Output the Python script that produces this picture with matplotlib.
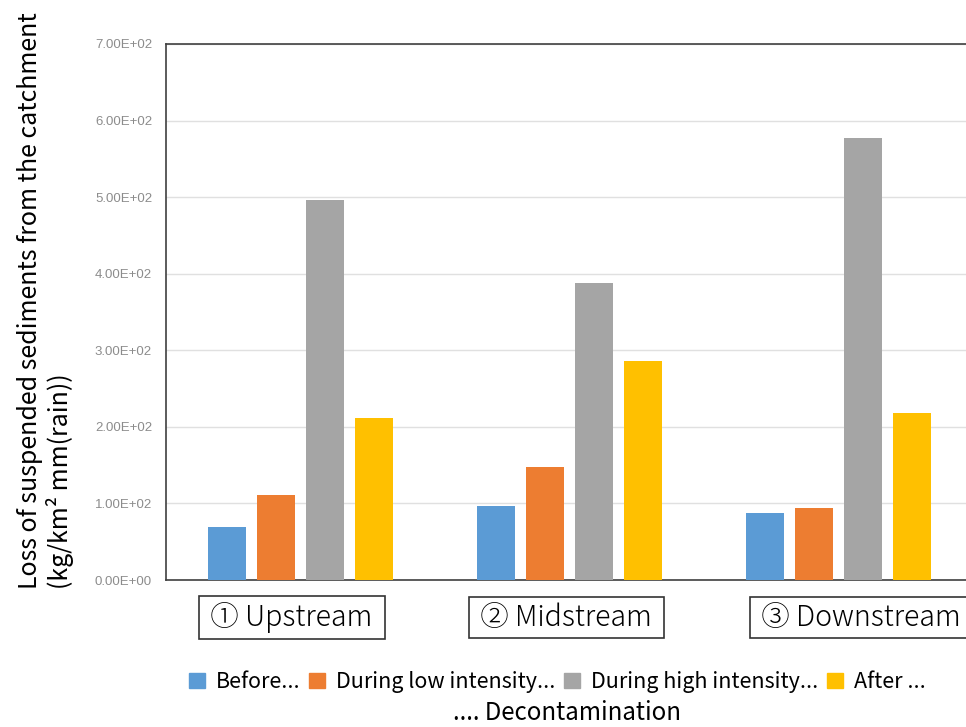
import numpy as np
import matplotlib.pyplot as plt
from matplotlib.patches import Patch

plt.rcParams['font.family'] = ['Noto Sans CJK JP', 'DejaVu Sans']

# data
sites = ['① Upstream', '② Midstream', '③ Downstream']
periods = ['Before...', 'During low intensity...', 'During high intensity...', 'After ...']
before = [69, 97, 88]
during_low = [111, 148, 94]
during_high = [496, 388, 577]
after = [212, 286, 218]
colors = ['#5b9bd5', '#ed7d31', '#a5a5a5', '#ffc000']
yticks = [0, 100, 200, 300, 400, 500, 600, 700]

series = [before, during_low, during_high, after]

fig = plt.figure(figsize=(9.66, 7.27), dpi=100)
ax = fig.add_axes([0.1718, 0.2022, 0.8354, 0.7373])

x = np.arange(len(sites))
w = 0.141
step = 0.182
for i, vals in enumerate(series):
    ax.bar(x + (i - 1.5) * step, vals, width=w, color=colors[i], zorder=3)

ax.set_xlim(-0.5, 2.5)
ax.set_ylim(0, 700)
ax.set_yticks(yticks)
ax.set_yticklabels(['%.2fE+02' % (v / 100) if v else '0.00E+00' for v in yticks],
                   fontsize=9.5, color='#8c8c8c', family='Liberation Sans')
ax.tick_params(axis='y', length=0, pad=10)
ax.yaxis.grid(True, color='#e0e0e0', linewidth=1, zorder=0)
ax.set_xticks(x)
ax.set_xticklabels([])
ax.tick_params(axis='x', length=0)
for s in ['left', 'top', 'bottom']:
    ax.spines[s].set_color('#404040')
    ax.spines[s].set_linewidth(1.2)
ax.spines['right'].set_visible(False)

# boxed category labels (placed by hand in the original)
offsets = [-0.033, -0.011, 0.085]
for xi, off, name in zip(x, offsets, sites):
    ax.text(xi + off, -49, ' ' + name + ' ', ha='center', va='center', fontsize=20.5,
            fontweight='light', transform=ax.transData, clip_on=False,
            bbox=dict(boxstyle='square,pad=0.2', fc='white', ec='#333333', lw=1.2))

fig.text(0.047, 0.587, 'Loss of suspended sediments from the catchment\n(kg/km² mm(rain))',
         rotation=90, ha='center', va='center', fontsize=18, linespacing=1.15,
         multialignment='left')

handles = [Patch(color=c, label=p) for c, p in zip(colors, periods)]
fig.legend(handles=handles, loc='center', bbox_to_anchor=(0.577, 0.062), ncol=4,
           frameon=False, fontsize=15.5, handlelength=0.75, handleheight=0.75,
           handletextpad=0.5, columnspacing=0.4)
fig.text(0.587, 0.019, '.... Decontamination', ha='center', va='center', fontsize=17.3)

fig.savefig('out.png', dpi=100)
